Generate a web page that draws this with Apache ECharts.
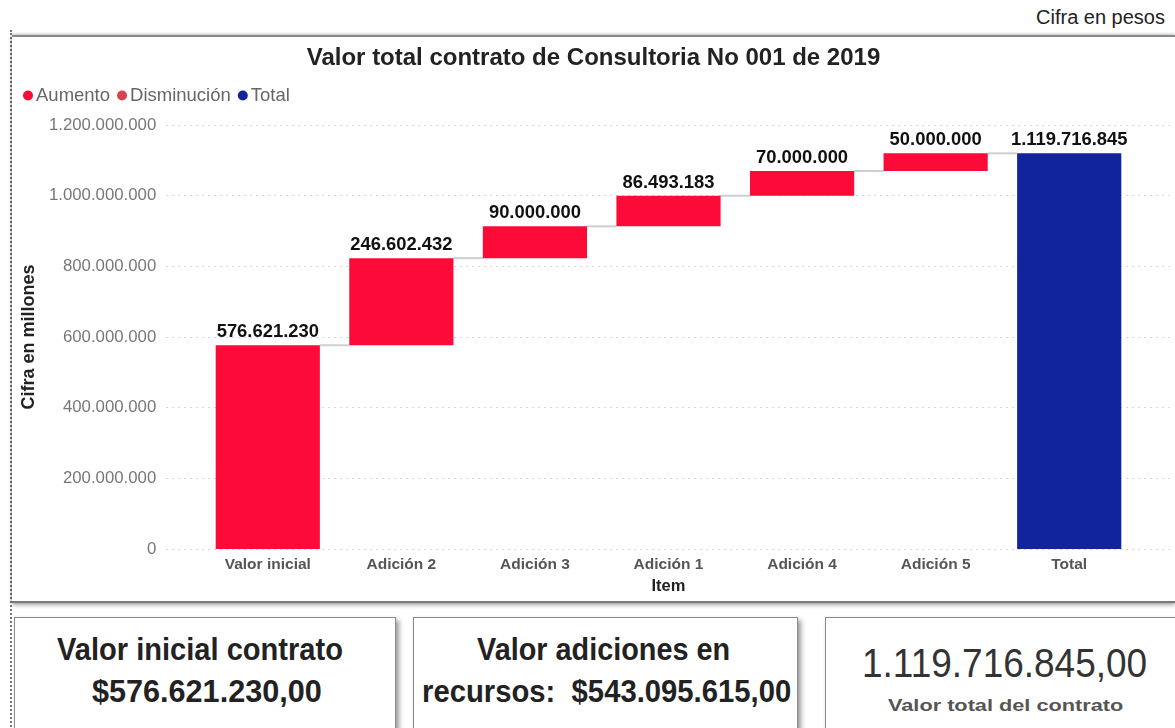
<!DOCTYPE html>
<html>
<head>
<meta charset="utf-8">
<script src="https://cdn.jsdelivr.net/npm/echarts@6/dist/echarts.min.js"></script>
<style>
  html, body { margin:0; padding:0; background:#fff; width:1175px; height:728px; overflow:hidden; position:relative; font-family:"Liberation Sans", Arial, sans-serif; }
  #dots { position:absolute; left:10px; top:30px; height:700px; border-left:2px dotted #777; }
  #pesos { position:absolute; right:10px; top:6px; font-size:20px; color:#222; }
  #chart { position:absolute; left:12px; top:35px; width:1163px; height:564px; border-top:2px solid #8a8a8a; border-bottom:2px solid #7a7a7a; box-shadow:0 2px 4px rgba(0,0,0,0.35), 0 -1px 3px rgba(0,0,0,0.2); background:#fff; }
  .card { position:absolute; top:617px; height:130px; border:1px solid #8a8a8a; background:#fff; box-shadow:3px 3px 5px rgba(0,0,0,0.4); }
  #c1 { left:14px; width:380px; }
  #c2 { left:413px; width:383px; }
  #c3 { left:825px; width:360px; }
  .ln { position:absolute; white-space:nowrap; transform-origin:0 50%; }
  .big { font-weight:bold; font-size:31px; color:#222; line-height:40px; }
  .num { font-size:41px; color:#333; line-height:48px; }
  .lab { font-weight:bold; font-size:17px; color:#555; line-height:24px; }
</style>
</head>
<body>
<div id="dots"></div>
<div id="pesos">Cifra en pesos</div>
<div id="chart"></div>
<div class="card" id="c1"></div>
<div class="card" id="c2"></div>
<div class="card" id="c3"></div>
<span class="ln big" data-cx="200" data-cy="650" data-w="286">Valor inicial contrato</span>
<span class="ln big" data-cx="207" data-cy="692" data-w="230">$576.621.230,00</span>
<span class="ln big" data-cx="603" data-cy="650" data-w="253">Valor adiciones en</span>
<span class="ln big" data-cx="606" data-cy="692" data-w="369">recursos:&nbsp; $543.095.615,00</span>
<span class="ln num" data-cx="1004" data-cy="663" data-w="285">1.119.716.845,00</span>
<span class="ln lab" data-cx="1005" data-cy="706" data-w="235">Valor total del contrato</span>
<script>
const categories = ['Valor inicial', 'Adición 2', 'Adición 3', 'Adición 1', 'Adición 4', 'Adición 5', 'Total'];
const increases = [576621230, 246602432, 90000000, 86493183, 70000000, 50000000];
const decreases = [];
const totalValue = 1119716845;
const yTicks = [0, 200000000, 400000000, 600000000, 800000000, 1000000000, 1200000000];

const fmt = n => Math.round(n).toString().replace(/\B(?=(\d{3})+(?!\d))/g, '.');

// fit card text lines (condensed look)
document.querySelectorAll('.ln').forEach(el => {
  const w = el.offsetWidth, h = el.offsetHeight;
  const tw = +el.dataset.w, cx = +el.dataset.cx, cy = +el.dataset.cy;
  el.style.left = (cx - tw / 2) + 'px';
  el.style.top = (cy - h / 2) + 'px';
  el.style.transform = 'scaleX(' + (tw / w) + ')';
});

// derived stacking values
const base = [];
const ends = [];
let run = 0;
increases.forEach(v => { base.push(run); run += v; ends.push(run); });
base.push(0);
const incData = increases.concat(['-']);
const totData = increases.map(() => '-').concat([totalValue]);
const decData = categories.map(() => '-');
const connectors = ends.map((v, i) => [i, v]);

const RED = '#fc0a38', RED2 = '#d9434f', NAVY = '#12239e';
const barRatio = 0.778;
const FF = 'Liberation Sans';

const chart = echarts.init(document.getElementById('chart'), null, { renderer: 'canvas' });
chart.setOption({
  animation: false,
  title: {
    text: 'Valor total contrato de Consultoria No 001 de 2019',
    left: 'center', top: 4,
    textStyle: { fontFamily: FF, fontWeight: 'bold', fontSize: 24, color: '#222' }
  },
  legend: {
    left: 6, top: 44, icon: 'circle', itemWidth: 10, itemHeight: 10, itemGap: 7,
    data: ['Aumento', 'Disminución', 'Total'],
    textStyle: { fontFamily: FF, fontSize: 18.5, color: '#666', padding: [0, 0, 0, -2] }
  },
  grid: [
    { left: 189, right: 39, top: 88, bottom: 52 },
    { left: 148, right: 5, top: 88, bottom: 52 }
  ],
  xAxis: [
    {
      type: 'category', gridIndex: 0, data: categories,
      axisLine: { show: false }, axisTick: { show: false },
      axisLabel: { margin: 8, fontFamily: FF, fontWeight: 'bold', fontSize: 15.5, color: '#555' },
      name: 'Item', nameLocation: 'middle', nameGap: 29,
      nameTextStyle: { fontFamily: FF, fontWeight: 'bold', fontSize: 16.5, color: '#222' }
    },
    { type: 'value', gridIndex: 1, min: 0, max: 1, show: false }
  ],
  yAxis: [
    { type: 'value', gridIndex: 0, min: 0, max: 1200000000, interval: 200000000, show: false, splitLine: { show: false } },
    {
      type: 'value', gridIndex: 1, min: 0, max: 1200000000, interval: 200000000,
      axisLine: { show: false }, axisTick: { show: false },
      axisLabel: { margin: 10, fontFamily: FF, fontSize: 16.8, color: '#777', formatter: v => fmt(v) },
      splitLine: { show: true, lineStyle: { type: [2, 4], color: '#d4d4d4', width: 1 } },
      name: 'Cifra en millones', nameLocation: 'middle', nameGap: 124, nameRotate: 90,
      nameTextStyle: { fontFamily: FF, fontWeight: 'bold', fontSize: 18, color: '#222' }
    }
  ],
  series: [
    {
      name: 'base', type: 'bar', stack: 'w', xAxisIndex: 0, yAxisIndex: 0,
      data: base, itemStyle: { color: 'transparent' }, barCategoryGap: '22%', silent: true
    },
    {
      name: 'Aumento', type: 'bar', stack: 'w', xAxisIndex: 0, yAxisIndex: 0,
      data: incData, itemStyle: { color: RED }, barCategoryGap: '22%',
      label: { show: true, position: 'top', distance: 4, formatter: p => fmt(p.value),
        fontFamily: FF, fontWeight: 'bold', fontSize: 18.4, color: '#111' }
    },
    {
      name: 'Disminución', type: 'bar', stack: 'w', xAxisIndex: 0, yAxisIndex: 0,
      data: decData, itemStyle: { color: RED2 }, barCategoryGap: '22%'
    },
    {
      name: 'Total', type: 'bar', stack: 'w', xAxisIndex: 0, yAxisIndex: 0,
      data: totData, itemStyle: { color: NAVY }, barCategoryGap: '22%',
      label: { show: true, position: 'top', distance: 4, formatter: p => fmt(p.value),
        fontFamily: FF, fontWeight: 'bold', fontSize: 18.4, color: '#111' }
    },
    {
      name: 'conn', type: 'custom', xAxisIndex: 0, yAxisIndex: 0, silent: true, z: 1,
      data: connectors,
      renderItem: function (params, api) {
        const i = api.value(0), v = api.value(1);
        const a = api.coord([i, v]);
        const b = api.coord([i + 1, v]);
        const hw = api.size([1, 0])[0] * barRatio / 2;
        return {
          type: 'line',
          shape: { x1: a[0] + hw, y1: a[1], x2: b[0] - hw, y2: b[1] },
          style: { stroke: '#cfcfcf', lineWidth: 2 }
        };
      }
    }
  ]
});
</script>
</body>
</html>
